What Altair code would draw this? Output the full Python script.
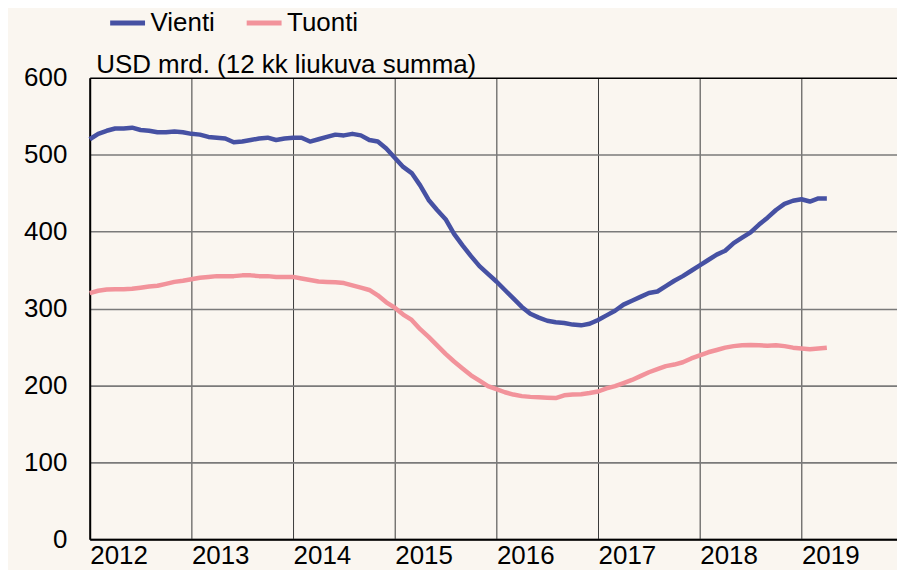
import altair as alt
import pandas as pd

# Monthly values, Jan 2012 ... Mar 2019 (USD bn, 12-month rolling sum)
start_year = 2012
vienti = [520, 527, 531, 534, 534, 535, 532, 531, 529, 529, 530, 529,
          527, 526, 523, 522, 521, 516, 517, 519, 521, 522, 519, 521,
          522, 522, 517, 520, 523, 526, 525, 527, 525, 519, 517, 508,
          496, 484, 476, 460, 441, 428, 416, 397, 382, 368, 355, 345,
          335, 324, 313, 302, 293, 288, 284, 282, 281, 279, 278, 280,
          285, 291, 297, 305, 310, 315, 320, 322, 329, 336, 342, 349,
          356, 363, 370, 375, 385, 392, 399, 409, 418, 428, 436, 440,
          442, 439, 443, 443]
tuonti = [320, 323, 324.5, 325, 325, 325.5, 327, 328.5, 329.5, 332, 334.5, 336,
          338, 340, 341, 342, 342, 342, 343, 343, 342, 342, 341, 341,
          341, 339, 337, 335, 334.5, 334, 333, 330, 327, 324, 317, 308,
          301, 292, 285, 273, 263, 252, 241, 231, 222, 213, 206, 199,
          195, 191, 188, 186, 185, 184.5, 184, 183.5, 187, 188, 188.5, 190,
          192, 196, 199, 203, 207, 212, 217, 221, 225, 227, 230, 235,
          239, 243, 246, 249, 251, 252, 252.5, 252, 251.5, 252, 251, 249,
          248, 247, 248, 249]
series_names = ["Vienti", "Tuonti"]
series_colors = ["#4651A3", "#F2939B"]
year_ticks = [2012, 2013, 2014, 2015, 2016, 2017, 2018, 2019]
value_ticks = [0, 100, 200, 300, 400, 500, 600]
y_title = "USD mrd. (12 kk liukuva summa)"

rows = []
for name, vals in zip(series_names, [vienti, tuonti]):
    for i, v in enumerate(vals):
        rows.append({"t": start_year + i / 12, "v": v, "s": name})
df = pd.DataFrame(rows)

FONT = "Liberation Sans"
FS = 26

chart = alt.Chart(df).mark_line(
    strokeWidth=4.5, strokeCap="butt", strokeJoin="round"
).encode(
    x=alt.X(
        "t:Q",
        scale=alt.Scale(domain=[2012, 2019.94], nice=False, zero=False),
        axis=alt.Axis(
            values=year_ticks, format="d", title=None,
            labelAlign="left", labelBaseline="alphabetic",
            labelPadding=24, labelFlush=False, labelOverlap=False,
            ticks=False, tickSize=0,
            labelFont=FONT, labelFontSize=FS, labelColor="#000000",
            domainColor="#000000", domainWidth=2,
            grid=True, gridColor="#3a3a3a", gridWidth=1, gridOpacity=1,
        ),
    ),
    y=alt.Y(
        "v:Q",
        scale=alt.Scale(domain=[0, 600], nice=False),
        axis=alt.Axis(
            values=value_ticks, title=y_title,
            titleAngle=0, titleX=6, titleY=-5, titleAlign="left",
            titleBaseline="alphabetic", titleFont=FONT, titleFontSize=FS,
            titleFontWeight="normal", titleColor="#000000",
            labelFont=FONT, labelFontSize=FS, labelColor="#000000",
            labelPadding=23, ticks=False, tickSize=0,
            domainColor="#000000", domainWidth=2,
            grid=True,
            gridColor=alt.condition(alt.datum.value == 600, alt.value("#000000"), alt.value("#7a7a7a")),
            gridWidth=1.6, gridOpacity=1,
        ),
    ),
    color=alt.Color(
        "s:N",
        scale=alt.Scale(domain=series_names, range=series_colors),
        legend=alt.Legend(
            orient="none", legendX=18, legendY=-75, direction="horizontal",
            title=None, symbolType="stroke", symbolSize=1225,
            symbolStrokeWidth=5, labelFont=FONT, labelFontSize=FS,
            labelColor="#000000", labelOffset=3, columnPadding=21, padding=0,
        ),
    ),
).properties(
    width=810, height=463,
    padding={"left": 82, "top": 69, "right": 0, "bottom": 30},
    autosize=alt.AutoSizeParams(type="none"),
    background="#FAF6F0",
).configure_view(strokeOpacity=0, fill="#FAF6F0")

chart.save("out.html", embed_options={"renderer": "svg", "actions": False})
